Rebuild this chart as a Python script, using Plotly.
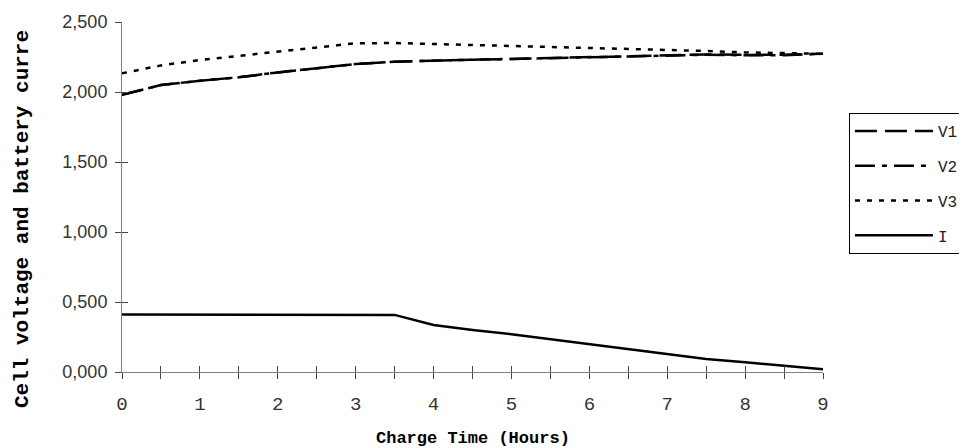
import plotly.graph_objects as go

time_h = [0, 0.5, 1, 1.5, 2, 2.5, 3, 3.5, 4, 4.5, 5, 5.5, 6, 6.5, 7, 7.5, 8, 8.5, 9]
v1 = [1.98, 2.05, 2.08, 2.105, 2.14, 2.168, 2.20, 2.216, 2.226, 2.231, 2.236, 2.243, 2.25, 2.257, 2.262, 2.268, 2.265, 2.266, 2.273]
v2 = [1.98, 2.05, 2.08, 2.105, 2.14, 2.168, 2.20, 2.216, 2.226, 2.231, 2.236, 2.243, 2.25, 2.257, 2.262, 2.266, 2.262, 2.262, 2.273]
v3 = [2.133, 2.19, 2.228, 2.258, 2.287, 2.316, 2.348, 2.35, 2.343, 2.338, 2.33, 2.324, 2.317, 2.307, 2.30, 2.293, 2.283, 2.276, 2.273]
current = [0.41, 0.41, 0.41, 0.41, 0.41, 0.41, 0.41, 0.408, 0.336, 0.30, 0.27, 0.234, 0.2, 0.162, 0.129, 0.093, 0.069, 0.043, 0.019]

x_tick_vals = [0, 0.5, 1, 1.5, 2, 2.5, 3, 3.5, 4, 4.5, 5, 5.5, 6, 6.5, 7, 7.5, 8, 8.5, 9]
x_tick_text = ["0", "", "1", "", "2", "", "3", "", "4", "", "5", "", "6", "", "7", "", "8", "", "9"]
y_tick_vals = [0, 0.5, 1.0, 1.5, 2.0, 2.5]
y_tick_text = ["0,000", "0,500", "1,000", "1,500", "2,000", "2,500"]

series_names = ["V1", "V2", "V3", "I"]
series_values = [v1, v2, v3, current]
series_dash = ["22px,8px", "20px,7px,5px,7px", "5px,7px", "solid"]

MONO = "Liberation Mono, Courier New, monospace"
SANS = "Liberation Sans, Arial, sans-serif"

fig = go.Figure()
for name, vals, dash in zip(series_names, series_values, series_dash):
    fig.add_trace(go.Scatter(
        x=time_h, y=vals, name=name, mode="lines", legendgroup=name,
        line=dict(color="black", width=2.5, dash=dash),
    ))

axis_color = "#808080"
fig.update_layout(
    width=967, height=448,
    margin=dict(l=114, r=152, t=14, b=84, autoexpand=False),
    paper_bgcolor="white", plot_bgcolor="white",
    showlegend=True,
    legend=dict(
        x=1.037, xanchor="left", y=0.337, yanchor="bottom",
        bordercolor="black", borderwidth=1, bgcolor="white",
        font=dict(family=MONO, size=16, color="#222"),
        itemwidth=78, tracegroupgap=11,
        entrywidth=140, entrywidthmode="pixels",
    ),
    xaxis=dict(
        range=[0, 9], tickvals=x_tick_vals, ticktext=x_tick_text,
        showgrid=False, zeroline=False, showline=True, linecolor=axis_color, linewidth=1,
        ticks="outside", ticklen=6, tickcolor="#444", tickwidth=1,
        ticklabelstandoff=8,
        tickfont=dict(family=MONO, size=19, color="#333"),
    ),
    yaxis=dict(
        range=[0, 2.5], tickvals=y_tick_vals, ticktext=y_tick_text,
        showgrid=False, zeroline=False, showline=True, linecolor=axis_color, linewidth=1,
        ticks="outside", ticklen=6, tickcolor="#444", tickwidth=1,
        ticklabelstandoff=4,
        tickfont=dict(family=SANS, size=18, color="#333"),
    ),
    xaxis2=dict(
        overlaying="x", matches="x", range=[0, 9], tickvals=x_tick_vals, side="bottom",
        anchor="y", showticklabels=False, showgrid=False, zeroline=False, showline=False,
        ticks="inside", ticklen=6, tickcolor="#444", tickwidth=1,
    ),
    yaxis2=dict(
        overlaying="y", matches="y", range=[0, 2.5], tickvals=y_tick_vals, side="left",
        anchor="x", showticklabels=False, showgrid=False, zeroline=False, showline=False,
        ticks="inside", ticklen=6, tickcolor="#444", tickwidth=1,
    ),
    annotations=[
        dict(text="<b>Charge Time (Hours)</b>", xref="paper", yref="paper", x=0.5, y=-0.19,
             xanchor="center", yanchor="middle", showarrow=False,
             font=dict(family=MONO, size=17, color="black")),
        dict(text="<b>Cell voltage and battery curre</b>", xref="paper", yref="paper",
             x=-0.1427, y=0.437, xanchor="center", yanchor="middle", textangle=-90,
             showarrow=False, font=dict(family=MONO, size=21, color="black")),
    ],
)
# invisible helper trace to activate the overlay axes for crossing ticks
fig.add_trace(go.Scatter(x=[None], y=[None], xaxis="x2", yaxis="y2", showlegend=False, hoverinfo="skip"))

fig.write_html("out.html")
